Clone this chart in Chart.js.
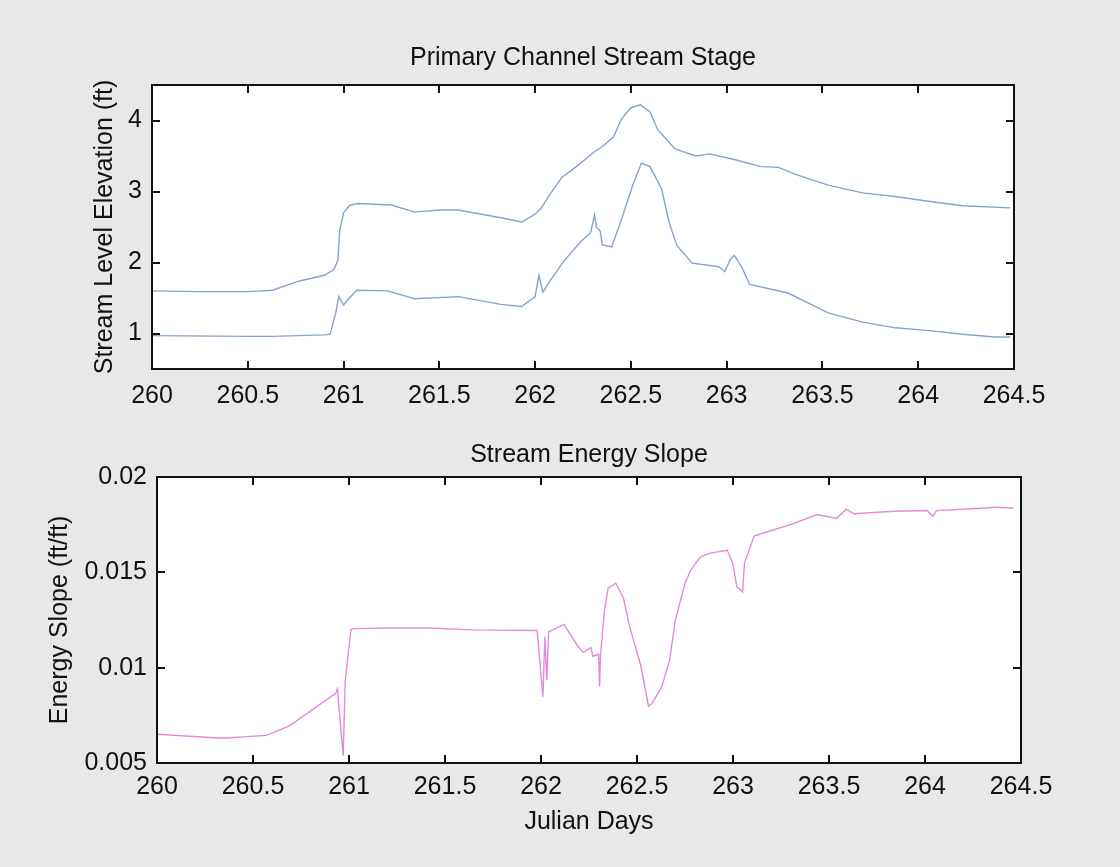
<!DOCTYPE html>
<html>
<head>
<meta charset="utf-8">
<script src="https://cdn.jsdelivr.net/npm/chart.js@4"></script>
<style>
  body { margin: 0; background: #e8e8e8; width: 1120px; height: 867px; overflow: hidden; position: relative; }
  .chart-box { position: absolute; left: 0; width: 1120px; }
  #stage-box { top: 0; height: 430px; }
  #slope-box { top: 430px; height: 437px; }
</style>
</head>
<body>
<div class="chart-box" id="stage-box"><canvas id="js-stage-chart"></canvas></div>
<div class="chart-box" id="slope-box"><canvas id="js-slope-chart"></canvas></div>
<script>
// tick labels
const dayTicks = [260, 260.5, 261, 261.5, 262, 262.5, 263, 263.5, 264, 264.5];
const stageTicks = [1, 2, 3, 4];
const slopeTicks = [0.005, 0.01, 0.015, 0.02];

// upper stage line
const stageHighDays = [260.00, 260.25, 260.50, 260.63, 260.77, 260.90, 260.95, 260.97, 260.98, 261.00,
  261.03, 261.07, 261.25, 261.37, 261.50, 261.60, 261.82, 261.93, 262.00, 262.03,
  262.08, 262.14, 262.21, 262.31, 262.35, 262.41, 262.45, 262.50, 262.55, 262.60,
  262.64, 262.73, 262.84, 262.91, 263.04, 263.18, 263.27, 263.36, 263.53, 263.71,
  263.88, 264.06, 264.23, 264.48];
const stageHigh = [1.60, 1.59, 1.59, 1.61, 1.74, 1.82, 1.90, 2.03, 2.45, 2.70,
  2.80, 2.83, 2.81, 2.71, 2.74, 2.74, 2.63, 2.57, 2.68, 2.76,
  2.97, 3.20, 3.34, 3.56, 3.63, 3.77, 4.02, 4.18, 4.22, 4.12,
  3.87, 3.60, 3.50, 3.53, 3.45, 3.35, 3.34, 3.24, 3.09, 2.98,
  2.93, 2.86, 2.80, 2.77];

// lower stage line
const stageLowDays = [260.00, 260.50, 260.63, 260.90, 260.93, 260.96, 260.975, 261.00, 261.03, 261.07,
  261.23, 261.37, 261.60, 261.82, 261.93, 262.00, 262.02, 262.04, 262.08, 262.15,
  262.24, 262.29, 262.31, 262.32, 262.34, 262.35, 262.40, 262.45, 262.51, 262.555,
  262.60, 262.66, 262.70, 262.74, 262.82, 262.96, 262.99, 263.02, 263.04, 263.08,
  263.12, 263.32, 263.53, 263.71, 263.88, 264.06, 264.23, 264.40, 264.48];
const stageLow = [0.97, 0.96, 0.96, 0.98, 0.99, 1.30, 1.52, 1.40, 1.50, 1.61,
  1.60, 1.49, 1.52, 1.41, 1.38, 1.52, 1.82, 1.58, 1.75, 2.02,
  2.30, 2.42, 2.67, 2.50, 2.44, 2.25, 2.22, 2.60, 3.09, 3.40,
  3.35, 3.04, 2.56, 2.24, 1.99, 1.94, 1.87, 2.05, 2.10, 1.93,
  1.69, 1.57, 1.29, 1.16, 1.08, 1.04, 0.99, 0.95, 0.95];

// energy slope
const slopeDays = [260.00, 260.34, 260.57, 260.69, 260.81, 260.93, 260.94, 260.95, 260.97, 260.98,
  261.01, 261.02, 261.21, 261.42, 261.65, 261.98, 262.01, 262.02, 262.03, 262.04,
  262.12, 262.19, 262.22, 262.26, 262.27, 262.30, 262.305, 262.31, 262.33, 262.35,
  262.39, 262.43, 262.46, 262.52, 262.56, 262.58, 262.63, 262.67, 262.70, 262.75,
  262.78, 262.83, 262.88, 262.97, 263.00, 263.02, 263.05, 263.06, 263.11, 263.18,
  263.31, 263.44, 263.54, 263.59, 263.63, 263.84, 264.01, 264.04, 264.06, 264.27,
  264.37, 264.46];
const slope = [0.00651, 0.00630, 0.00645, 0.00695, 0.00780, 0.00865, 0.00890, 0.00767, 0.00539, 0.00925,
  0.01200, 0.01205, 0.01208, 0.01208, 0.01198, 0.01195, 0.00847, 0.01163, 0.00934, 0.01188,
  0.01227, 0.01115, 0.01080, 0.01105, 0.01060, 0.01070, 0.00900, 0.01065, 0.01295, 0.01417,
  0.01443, 0.01363, 0.01222, 0.01010, 0.00798, 0.00815, 0.00902, 0.01041, 0.01251, 0.01443,
  0.01512, 0.01581, 0.01601, 0.01616, 0.01542, 0.01424, 0.01397, 0.01550, 0.01690, 0.01713,
  0.01754, 0.01803, 0.01783, 0.01831, 0.01807, 0.01820, 0.01824, 0.01795, 0.01824, 0.01835,
  0.01841, 0.01836];

Chart.defaults.font.family = "'Liberation Sans', Arial, sans-serif";
Chart.defaults.color = '#111';

const toPoints = (xs, ys) => xs.map((x, i) => ({ x: x, y: ys[i] }));
const fmt = v => String(Number(v.toFixed(4)));

// white axes box with inward ticks on all four sides, like matlab
const matlabBox = {
  id: 'matlabBox',
  beforeDraw(chart) {
    const { ctx, chartArea: a } = chart;
    ctx.save();
    ctx.fillStyle = '#fff';
    ctx.fillRect(a.left, a.top, a.width, a.height);
    ctx.restore();
  },
  afterDraw(chart) {
    const { ctx, chartArea: a, scales } = chart;
    ctx.save();
    ctx.strokeStyle = '#111';
    ctx.lineWidth = 2;
    ctx.strokeRect(a.left, a.top, a.width, a.height);
    ctx.beginPath();
    scales.x.ticks.forEach(t => {
      const px = Math.round(scales.x.getPixelForValue(t.value));
      ctx.moveTo(px, a.bottom); ctx.lineTo(px, a.bottom - 8);
      ctx.moveTo(px, a.top); ctx.lineTo(px, a.top + 8);
    });
    scales.y.ticks.forEach(t => {
      const py = Math.round(scales.y.getPixelForValue(t.value));
      ctx.moveTo(a.left, py); ctx.lineTo(a.left + 8, py);
      ctx.moveTo(a.right, py); ctx.lineTo(a.right - 8, py);
    });
    ctx.stroke();
    ctx.restore();
  }
};

function makeChart(id, cfg) {
  const ctx = document.getElementById(id).getContext('2d');
  return new Chart(ctx, {
    type: 'line',
    data: { datasets: cfg.datasets },
    options: {
      responsive: true,
      maintainAspectRatio: false,
      animation: false,
      layout: { padding: { left: 0, right: cfg.padRight, top: 0, bottom: 0 } },
      elements: { point: { radius: 0 }, line: { tension: 0 } },
      plugins: {
        legend: { display: false },
        tooltip: { enabled: false },
        title: {
          display: true,
          fullSize: false,
          text: cfg.title,
          font: { size: 25, weight: 'normal' },
          color: '#111',
          padding: cfg.titlePad
        }
      },
      scales: {
        x: {
          type: 'linear',
          min: 260,
          max: 264.5,
          afterBuildTicks: s => { s.ticks = dayTicks.map(v => ({ value: v })); },
          afterFit: s => { s.height = cfg.xHeight; },
          grid: { display: true, drawOnChartArea: false, drawTicks: false },
          border: { display: false },
          ticks: { font: { size: 25 }, padding: cfg.xTickPad, maxRotation: 0, autoSkip: false, callback: fmt },
          title: cfg.xTitle
        },
        y: {
          type: 'linear',
          min: cfg.yMin,
          max: cfg.yMax,
          afterBuildTicks: s => { s.ticks = cfg.yTicks.map(v => ({ value: v })); },
          afterFit: s => { s.width = cfg.yWidth; },
          grid: { display: true, drawOnChartArea: false, drawTicks: false },
          border: { display: false },
          ticks: { font: { size: 25 }, padding: 10, callback: fmt },
          title: {
            display: true,
            text: cfg.yTitle,
            font: { size: 25 },
            color: '#111',
            padding: { top: cfg.yTitlePad, bottom: 0 }
          }
        }
      }
    },
    plugins: [matlabBox]
  });
}

makeChart('js-stage-chart', {
  title: 'Primary Channel Stream Stage',
  titlePad: { top: 43, bottom: 12 },
  padRight: 106,
  xHeight: 61,
  xTickPad: 12,
  xTitle: { display: false },
  yWidth: 152,
  yMin: 0.5,
  yMax: 4.5,
  yTicks: stageTicks,
  yTitle: 'Stream Level Elevation (ft)',
  yTitlePad: 90,
  datasets: [
    { data: toPoints(stageHighDays, stageHigh), borderColor: '#86a3cf', borderWidth: 1.4 },
    { data: toPoints(stageLowDays, stageLow), borderColor: '#86a3cf', borderWidth: 1.4 }
  ]
});

makeChart('js-slope-chart', {
  title: 'Stream Energy Slope',
  titlePad: { top: 10, bottom: 7 },
  padRight: 99,
  xHeight: 104,
  xTickPad: 9,
  xTitle: {
    display: true,
    text: 'Julian Days',
    font: { size: 25 },
    color: '#111',
    padding: { top: 0, bottom: 30 }
  },
  yWidth: 157,
  yMin: 0.005,
  yMax: 0.02,
  yTicks: slopeTicks,
  yTitle: 'Energy Slope (ft/ft)',
  yTitlePad: 45,
  datasets: [
    { data: toPoints(slopeDays, slope), borderColor: '#e38bd8', borderWidth: 1.4 }
  ]
});
</script>
</body>
</html>
